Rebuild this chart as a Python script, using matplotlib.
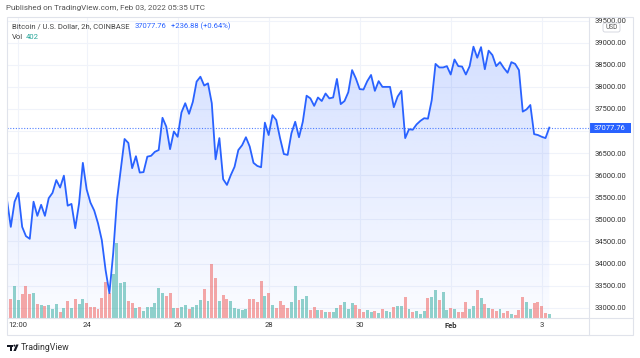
import numpy as np
import pandas as pd
import matplotlib
matplotlib.use('Agg')
import matplotlib.pyplot as plt
import matplotlib.dates as mdates
from matplotlib.patches import Rectangle, FancyBboxPatch, Polygon, Circle

plt.rcParams['font.family'] = ['Roboto', 'DejaVu Sans']

# BTC/USD 2h closes, Coinbase
times = pd.date_range('2022-01-22 06:00', periods=144, freq='2h')
close = [
    35440, 34830, 35400, 35600, 34830, 34620, 34560, 35400, 35080, 35330,
    35080, 35480, 35600, 35890, 35720, 35990, 35310, 35350, 34800, 35360,
    36280, 35680, 35380, 35200, 34910, 34530, 33850, 33330, 34230, 35440,
    36130, 36820,
    36730, 36160, 36430, 36060, 36070, 36420, 36440, 36530, 36570, 37300,
    37100, 36590, 36990, 36870, 37420, 37630, 37390, 37660, 38120, 38230,
    38030, 38080, 37630, 36360, 36840, 35910, 35780, 36000, 36190, 36570,
    36680, 36860, 36650, 36280, 36210, 36180, 37190, 36910, 37360, 37250,
    36840, 36480, 36460, 36950, 37210, 36860, 37210, 37800, 37740, 37570,
    37760, 37680, 37850, 37740, 37760, 38180, 37610, 37680, 37880, 38380,
    38190, 37950, 37940, 38130, 38270, 37910, 38130, 38000, 38000, 38000,
    37540, 37780, 37910, 36840, 37040, 37030, 37150, 37230, 37290, 37280,
    37700, 38520, 38440, 38440, 38470, 38280, 38620, 38470, 38460, 38280,
    38470, 38910, 38660, 38900, 38400, 38820, 38720, 38470, 38560, 38430,
    38320, 38560, 38520, 38380, 37440, 37490, 37590, 36930, 36910, 36870,
    36840.88, 37077.76,
]
first_open = 35600
volume = [
    2030, 1900, 3230, 1800, 2370, 3200, 2430, 2530, 1400, 1300,
    1230, 1270, 900, 1400, 630, 970, 1700, 1000, 1900, 1400,
    1900, 1470, 1070, 1130, 900, 2030, 3630, 2470, 4400, 7530,
    3530, 3600, 1700, 1470, 1000, 1130, 700, 1070, 1100, 1470,
    3030, 2530, 2170, 2470, 1000, 1000, 1100, 1270, 930, 1100,
    1270, 1800, 2900, 1700, 5400, 3970, 1700, 2270, 1900, 1700,
    1000, 930, 800, 930, 1900, 1900, 1630, 3700, 2230, 2500,
    1300, 970, 1700, 1270, 970, 1570, 3200, 1800, 1930, 2170,
    800, 1130, 770, 770, 600, 570, 570, 1000, 1300, 1570,
    900, 1500, 1270, 900, 630, 800, 570, 730, 530, 900,
    730, 630, 1070, 1200, 1230, 2130, 930, 570, 670, 400,
    670, 2000, 2100, 2770, 1800, 2600, 800, 1000, 930, 600,
    600, 1570, 900, 1200, 2830, 1970, 1400, 1030, 870, 670,
    870, 530, 730, 400, 300, 800, 2130, 1630, 930, 1500,
    1570, 1200, 500, 402,
]
price_ticks = list(range(33000, 39501, 500))
time_ticks = ['2022-01-22 12:00', '2022-01-24 00:00', '2022-01-26 00:00',
              '2022-01-28 00:00', '2022-01-30 00:00', '2022-02-01 00:00',
              '2022-02-03 00:00']
time_labels = ['12:00', '24', '26', '28', '30', 'Feb', '3']

BLUE = '#2962ff'
W, H = 640, 358

close = np.array(close, dtype=float)
opens = np.concatenate([[first_open], close[:-1]])
bar_colors = ['#26a69a' if c >= o else '#ef5350' for c, o in zip(close, opens)]
x = mdates.date2num(times)
step = 2 / 24

fig = plt.figure(figsize=(6.4, 3.58), dpi=100)
fig.patch.set_facecolor('white')


def frac(x0, y0, x1, y1):
    return [x0 / W, 1 - y1 / H, (x1 - x0) / W, (y1 - y0) / H]


rect = frac(6.7, 16.7, 589, 318)
ax_bg = fig.add_axes(rect)
ax_vol = fig.add_axes(rect)
ax_line = fig.add_axes(rect)

xlim = (x[0] - 0.08 * step, x[0] + 153.47 * step)
ylim = (32767, 39589)

# gradient area under the price line
fill = ax_bg.fill_between(x, close, ylim[0], facecolor='none', edgecolor='none')
grad = np.zeros((256, 1, 4))
grad[..., 0] = 41 / 255
grad[..., 1] = 98 / 255
grad[..., 2] = 1.0
grad[:, 0, 3] = np.linspace(0.02, 0.22, 256)
im = ax_bg.imshow(grad, extent=[x[0], x[-1], ylim[0], ylim[1]], origin='lower',
                  aspect='auto', zorder=1)
im.set_clip_path(fill.get_paths()[0], transform=ax_bg.transData)

ax_bg.set_xlim(xlim)
ax_bg.set_ylim(ylim)
ax_bg.set_yticks(price_ticks)
# the 37000 label sits under the last-price tag
ax_bg.set_yticklabels(['' if p == 37000 else f'{p:.2f}' for p in price_ticks])
ax_bg.set_xticks(mdates.date2num(pd.to_datetime(time_ticks)))
ax_bg.set_xticklabels(time_labels)
ax_bg.get_xticklabels()[5].set_fontweight('bold')
ax_bg.yaxis.tick_right()
ax_bg.tick_params(axis='y', length=0, pad=4.3, labelsize=5.5, labelcolor='#333333')
ax_bg.tick_params(axis='x', length=0, pad=3, labelsize=5.5, labelcolor='#333333')
ax_bg.grid(True, color='#f0f3fa', lw=0.8)
ax_bg.set_axisbelow(True)
for s in ax_bg.spines.values():
    s.set_visible(False)

# volume
ax_vol.bar(x, volume, width=step * 0.78, color=bar_colors, alpha=0.5)
ax_vol.set_xlim(xlim)
ax_vol.set_ylim(0, 30130)
ax_vol.axis('off')
ax_vol.patch.set_visible(False)

# price line
ax_line.plot(x, close, color=BLUE, lw=1.3, solid_joinstyle='round')
ax_line.axhline(close[-1], color=BLUE, lw=0.8, ls=(0, (1, 1.5)), alpha=0.8)
ax_line.set_xlim(xlim)
ax_line.set_ylim(ylim)
ax_line.axis('off')
ax_line.patch.set_visible(False)

# overlay in pixel coordinates for frame and labels
ov = fig.add_axes([0, 0, 1, 1], zorder=10)
ov.set_xlim(0, W)
ov.set_ylim(H, 0)
ov.axis('off')
ov.patch.set_visible(False)

fc = '#e0e3eb'
ov.add_patch(Rectangle((6.7, 16.7), 633 - 6.7, 335 - 16.7, fill=False, ec=fc, lw=0.8))
ov.plot([589, 589], [16.7, 335], color=fc, lw=0.8)
ov.plot([6.7, 633], [318, 318], color=fc, lw=0.8)

ov.text(6, 8, 'Published on TradingView.com, Feb 03, 2022 05:35 UTC',
        fontsize=5.8, color='#555555', va='center')
ov.text(11.7, 26, 'Bitcoin / U.S. Dollar, 2h, COINBASE', fontsize=5.5,
        color='#444444', va='center')
ov.text(135, 26, f'{close[-1]:.2f}', fontsize=5.5, color=BLUE, va='center')
chg = close[-1] - close[-2]
ov.text(171, 26, f'+{chg:.2f} (+{chg / close[-2] * 100:.2f}%)', fontsize=5.5,
        color=BLUE, va='center')
ov.text(11.7, 37, 'Vol', fontsize=5.5, color='#444444', va='center')
ov.text(26, 37, f'{volume[-1]}', fontsize=5.5, color='#26a69a', va='center')

# last price label on the price scale
y_disp = ax_line.transData.transform((x[-1], close[-1]))[1]
y_px = H - y_disp
ov.add_patch(Rectangle((589, y_px - 5), 42, 10, fc=BLUE, ec='none'))
ov.text(610, y_px, f'{close[-1]:.2f}', fontsize=5.5, color='white',
        ha='center', va='center')

# USD badge
ov.add_patch(FancyBboxPatch((603, 23), 17, 9, boxstyle='round,pad=0,rounding_size=2',
                            fc='white', ec='#d1d4dc', lw=0.6))
ov.text(611.5, 27.6, 'USD', fontsize=4.8, color='#555555', ha='center', va='center')

# TradingView logo
logo = '#131722'
ov.add_patch(Polygon([(7, 344.5), (13, 344.5), (13, 346.5), (11.6, 346.5),
                      (11.6, 351), (9.6, 351), (9.6, 346.5), (7, 346.5)],
                     closed=True, fc=logo, ec='none'))
ov.add_patch(Circle((14.4, 345.6), 1.0, fc=logo, ec='none'))
ov.add_patch(Polygon([(16.2, 344.5), (18.6, 344.5), (15.8, 351), (13.4, 351)],
                     closed=True, fc=logo, ec='none'))
ov.text(21, 347.8, 'TradingView', fontsize=6.3, color='#333333', va='center')

fig.savefig('out.png', dpi=100)
